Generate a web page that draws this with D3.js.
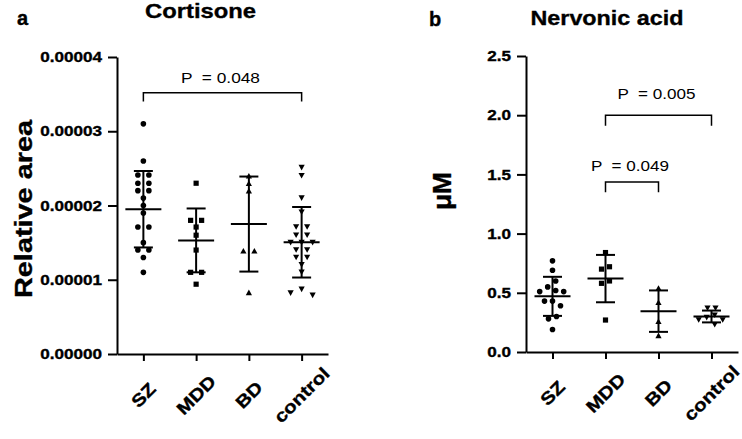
<!DOCTYPE html>
<html><head><meta charset="utf-8">
<script src="https://cdn.jsdelivr.net/npm/d3@7"></script>
<style>
body{margin:0;background:#fff}
svg{display:block}
text{font-family:"Liberation Sans",Arial,Helvetica,sans-serif;fill:#000}
</style>
</head><body>
<svg id="chart" width="742" height="439"></svg>
<script>
// ---------------- DATA ----------------
const groups = ["SZ", "MDD", "BD", "control"];

// Panel a: Cortisone (relative area)
const cortSZ = [3.10e-5, 2.60e-5, 2.41e-5, 2.41e-5, 2.30e-5, 2.30e-5, 2.20e-5, 2.20e-5, 2.10e-5, 2.00e-5, 1.90e-5, 1.71e-5, 1.71e-5, 1.50e-5, 1.40e-5, 1.40e-5, 1.30e-5, 1.10e-5];
const cortMDD = [2.30e-5, 1.80e-5, 1.80e-5, 1.71e-5, 1.60e-5, 1.40e-5, 1.10e-5, 1.10e-5, 0.94e-5];
const cortBD = [2.40e-5, 2.30e-5, 2.20e-5, 1.39e-5, 1.39e-5, 0.83e-5];
const cortControl = [2.51e-5, 2.40e-5, 2.10e-5, 1.91e-5, 1.71e-5, 1.71e-5, 1.60e-5, 1.60e-5, 1.50e-5, 1.50e-5, 1.50e-5, 1.40e-5, 1.40e-5, 1.30e-5, 1.30e-5, 1.20e-5, 1.10e-5, 0.87e-5, 0.82e-5, 0.79e-5];
const cortMean = [1.95e-5, 1.53e-5, 1.75e-5, 1.505e-5];
const cortSD = [0.515e-5, 0.43e-5, 0.64e-5, 0.475e-5];
const cortTicks = [0, 1e-5, 2e-5, 3e-5, 4e-5];
const cortBrackets = [{from: "SZ", to: "control", y: 3.52e-5, drop: 3.40e-5, labelY: 3.646e-5, label: "P  = 0.048"}];

// Panel b: Nervonic acid (µM)
const nervSZ = [0.77, 0.69, 0.60, 0.55, 0.52, 0.51, 0.51, 0.43, 0.43, 0.39, 0.30, 0.28, 0.19];
const nervMDD = [0.84, 0.72, 0.70, 0.60, 0.58, 0.27];
const nervBD = [0.54, 0.42, 0.26, 0.14];
const nervControl = [0.37, 0.37, 0.31, 0.29, 0.27, 0.27, 0.23];
const nervMean = [0.47, 0.62, 0.345, 0.30];
const nervSD = [0.165, 0.20, 0.175, 0.05];
const nervTicks = [0, 0.5, 1.0, 1.5, 2.0, 2.5];
const nervBrackets = [
  {from: "MDD", to: "control", y: 2.00, drop: 1.91, labelY: 2.137, label: "P  = 0.005"},
  {from: "MDD", to: "BD", y: 1.436, drop: 1.35, labelY: 1.53, label: "P  = 0.049"}
];

// ---------------- LAYOUT / STYLE ----------------
const panels = [
  {letter: "a", title: "Cortisone", ylabel: "Relative area",
   series: [cortSZ, cortMDD, cortBD, cortControl], mean: cortMean, sd: cortSD,
   domain: [0, 4e-5], ticks: cortTicks, fmt: d3.format(".5f"), brackets: cortBrackets,
   L: {x0: 117, x1: 328, yTop: 57, yBot: 354, step: 11,
       letterX: 17, letterY: 25, titleX: 200.5, titleY: 18, titleLen: 111,
       ylabX: 32, ylabY: 209, ylabSize: 24.5, ylabLen: 178, pLen: 79}},
  {letter: "b", title: "Nervonic acid", ylabel: "\u03bcM",
   series: [nervSZ, nervMDD, nervBD, nervControl], mean: nervMean, sd: nervSD,
   domain: [0, 2.5], ticks: nervTicks, fmt: d3.format(".1f"), brackets: nervBrackets,
   L: {x0: 526, x1: 738, yTop: 56, yBot: 352, step: 8,
       letterX: 429, letterY: 26, titleX: 607, titleY: 25, titleLen: 153,
       ylabX: 451, ylabY: 191, ylabSize: 26, ylabLen: 38, pLen: 78}}
];
const shapes = ["circle", "square", "triUp", "triDown"];
const boldStroke = 0.35;

const svg = d3.select("#chart");

function setLen(sel, len) {
  sel.attr("textLength", len).attr("lengthAdjust", "spacingAndGlyphs");
}
function widen(sel, f) {
  sel.each(function () {
    const l = this.getComputedTextLength();
    this.setAttribute("textLength", l * f);
    this.setAttribute("lengthAdjust", "spacingAndGlyphs");
  });
}
function heavy(sel) {
  sel.attr("stroke", "#000").attr("stroke-width", boldStroke);
}

function swarm(vals, y, step, dist) {
  const pts = vals.map(v => ({v, y: y(v), dx: 0})).sort((a, b) => a.y - b.y);
  const placed = [];
  for (const p of pts) {
    for (let k = 0; k < 14; k++) {
      const off = k === 0 ? 0 : (k % 2 ? -1 : 1) * Math.ceil(k / 2) * step;
      if (!placed.some(q => (q.dx - off) ** 2 + (q.y - p.y) ** 2 < dist * dist)) { p.dx = off; break; }
    }
    placed.push(p);
  }
  let cl = [pts[0]];
  const flush = () => { const m = d3.mean(cl, c => c.dx); cl.forEach(c => c.dx -= m); };
  for (let i = 1; i < pts.length; i++) {
    if (pts[i].y - pts[i - 1].y < dist) cl.push(pts[i]);
    else { flush(); cl = [pts[i]]; }
  }
  flush();
  return pts;
}

function symbolPath(shape, cx, cy) {
  if (shape === "circle") {
    const r = 2.8;
    return `M${cx - r},${cy}a${r},${r} 0 1,0 ${2 * r},0a${r},${r} 0 1,0 ${-2 * r},0Z`;
  }
  if (shape === "square") {
    const h = 2.6;
    return `M${cx - h},${cy - h}h${2 * h}v${2 * h}h${-2 * h}Z`;
  }
  const w = 3.1, hh = 2.8;
  if (shape === "triUp") return `M${cx},${cy - hh}L${cx + w},${cy + hh}L${cx - w},${cy + hh}Z`;
  return `M${cx},${cy + hh}L${cx + w},${cy - hh}L${cx - w},${cy - hh}Z`;
}

panels.forEach(P => {
  const L = P.L;
  const g = svg.append("g");
  const x = d3.scalePoint().domain(groups).range([L.x0, L.x1]).padding(0.5);
  const y = d3.scaleLinear().domain(P.domain).range([L.yBot, L.yTop]);

  // y axis
  const ya = g.append("g").attr("transform", `translate(${L.x0},0)`)
    .call(d3.axisLeft(y).tickValues(P.ticks).tickFormat(P.fmt).tickSize(9).tickPadding(6).tickSizeOuter(0));
  ya.select(".domain").attr("stroke", "#000").attr("stroke-width", 2);
  ya.selectAll(".tick line").attr("stroke", "#000").attr("stroke-width", 2);
  const yt = ya.selectAll(".tick text").attr("font-size", 14.5).attr("font-weight", "bold")
    .attr("font-family", '"Liberation Sans",Arial,sans-serif').attr("fill", "#000");
  widen(yt, 1.18);
  heavy(yt);

  // x axis
  const xa = g.append("g").attr("transform", `translate(0,${L.yBot})`)
    .call(d3.axisBottom(x).tickSize(7).tickSizeOuter(0).tickFormat(""));
  xa.select(".domain").attr("stroke", "#000").attr("stroke-width", 2);
  xa.selectAll(".tick line").attr("stroke", "#000").attr("stroke-width", 2);

  // x labels rotated
  const xl = g.selectAll(".xl").data(groups).enter().append("text")
    .attr("transform", d => `translate(${x(d)},${L.yBot + 41}) rotate(-45)`)
    .attr("text-anchor", "middle").attr("dy", "0.35em")
    .attr("font-size", 17.5).attr("font-weight", "bold").text(d => d);
  widen(xl, 1.18);
  heavy(xl);

  // points
  P.series.forEach((vals, i) => {
    const cx = x(groups[i]);
    const pts = swarm(vals, y, L.step, 6);
    g.selectAll(null).data(pts).enter().append("path")
      .attr("d", p => symbolPath(shapes[i], cx + p.dx, p.y)).attr("fill", "#000");
    // mean and SD
    const m = P.mean[i], s = P.sd[i];
    const eb = g.append("g").attr("stroke", "#000").attr("stroke-width", 2).attr("fill", "none");
    eb.append("line").attr("x1", cx).attr("x2", cx).attr("y1", y(m - s)).attr("y2", y(m + s));
    eb.append("line").attr("x1", cx - 9.5).attr("x2", cx + 9.5).attr("y1", y(m + s)).attr("y2", y(m + s));
    eb.append("line").attr("x1", cx - 9.5).attr("x2", cx + 9.5).attr("y1", y(m - s)).attr("y2", y(m - s));
    eb.append("line").attr("x1", cx - 18).attr("x2", cx + 18).attr("y1", y(m)).attr("y2", y(m));
  });

  // brackets
  P.brackets.forEach(b => {
    const xa1 = x(b.from), xb1 = x(b.to);
    g.append("path")
      .attr("d", `M${xa1},${y(b.drop)}V${y(b.y)}H${xb1}V${y(b.drop)}`)
      .attr("fill", "none").attr("stroke", "#000").attr("stroke-width", 1.5);
    const t = g.append("text").attr("x", (xa1 + xb1) / 2 - 2).attr("y", y(b.labelY))
      .attr("text-anchor", "middle").attr("font-size", 15.5)
      .attr("xml:space", "preserve").style("white-space", "pre").text(b.label);
    setLen(t, L.pLen);
  });

  // title
  const tt = g.append("text").attr("x", L.titleX).attr("y", L.titleY).attr("text-anchor", "middle")
    .attr("font-size", 21).attr("font-weight", "bold").text(P.title);
  setLen(tt, L.titleLen);
  heavy(tt);
  // letter
  heavy(g.append("text").attr("x", L.letterX).attr("y", L.letterY).attr("font-size", 20)
    .attr("font-weight", "bold").text(P.letter));
  // y label
  const yl = g.append("text").attr("transform", `translate(${L.ylabX},${L.ylabY}) rotate(-90)`)
    .attr("text-anchor", "middle").attr("font-size", L.ylabSize).attr("font-weight", "bold").text(P.ylabel);
  setLen(yl, L.ylabLen);
  heavy(yl);
});
</script>
</body></html>
